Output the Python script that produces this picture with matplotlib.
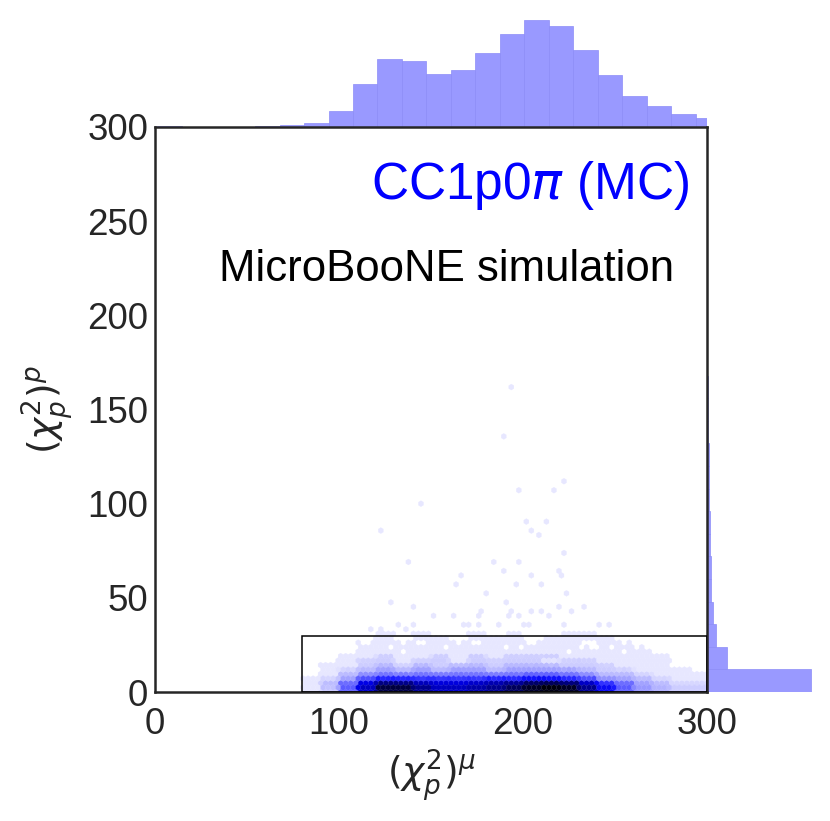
import colorsys
import numpy as np
import matplotlib
matplotlib.use("Agg")
import matplotlib.pyplot as plt
from matplotlib.colors import LinearSegmentedColormap, Normalize
from matplotlib.patches import Rectangle

plt.rcParams['font.family'] = ['Liberation Sans', 'DejaVu Sans']
plt.rcParams['mathtext.fontset'] = 'dejavusans'

# --- marginal histograms (counts) ---
mu_edges = [1.2, 14.5, 27.8, 41.1, 54.4, 67.7, 81.0, 94.3, 107.6, 120.9, 134.2,
            147.5, 160.8, 174.1, 187.4, 200.7, 214.0, 227.3, 240.6, 253.9,
            267.2, 280.5, 293.8, 307.1]
mu_counts = [5, 0, 0, 0, 5, 17, 40, 157, 430, 677, 657, 527, 573, 737, 927,
             1070, 1007, 770, 520, 310, 210, 127, 90]

p_edges = [0, 12, 24, 36, 48, 60, 72, 84, 96, 108, 120, 132, 144, 156, 168]
p_counts = [1037, 203, 87, 57, 43, 37, 25, 25, 20, 20, 15, 13, 13, 10]

# --- 2D density table: columns of chi2_mu (10 wide), rows of chi2_p (2.5 tall) ---
col_edges = [60, 70, 80, 90, 100, 110, 120, 130, 140, 150, 160, 170, 180,
             190, 200, 210, 220, 230, 240, 250, 260, 270, 280, 290, 300]
row_edges = [0, 2.5, 5, 7.5, 10, 12.5, 15, 17.5, 20, 22.5, 25, 27.5, 30]
density = [
    [0, 0, 1, 2, 6, 12, 17, 17, 14, 12, 12, 13, 14, 16, 18, 19, 18, 14, 10, 6, 4, 3, 2, 2],
    [0, 0, 1, 3, 7, 13, 18, 18, 15, 13, 13, 14, 15, 17, 19, 20, 19, 15, 10, 7, 4, 3, 2, 2],
    [0, 0, 1, 2, 4, 8, 10, 10, 9, 9, 9, 9, 10, 10, 11, 11, 10, 8, 5, 4, 3, 2, 1, 1],
    [0, 0, 0, 1, 3, 5, 6, 6, 6, 6, 6, 6, 6, 6, 7, 7, 6, 5, 3, 3, 2, 1, 1, 1],
    [0, 0, 0, 1, 2, 3, 4, 3, 4, 3, 4, 4, 3, 4, 4, 4, 4, 3, 2, 2, 1, 1, 1, 0],
    [0, 0, 0, 1, 1, 2, 3, 2, 3, 2, 3, 3, 2, 3, 3, 3, 2, 2, 2, 1, 1, 1, 0, 0],
    [0, 0, 0, 0, 1, 2, 2, 1, 2, 2, 1, 2, 2, 2, 2, 1, 2, 2, 1, 1, 1, 0, 0, 0],
    [0, 0, 0, 0, 1, 1, 2, 1, 1, 2, 1, 2, 1, 2, 2, 2, 1, 1, 1, 1, 0, 1, 0, 0],
    [0, 0, 0, 0, 0, 1, 1, 0, 1, 1, 1, 0, 1, 1, 1, 1, 0, 1, 1, 0, 1, 0, 0, 0],
    [0, 0, 0, 0, 0, 1, 0, 1, 1, 0, 1, 1, 1, 0, 1, 1, 1, 0, 0, 1, 0, 0, 0, 0],
    [0, 0, 0, 0, 0, 0, 1, 0, 0, 1, 0, 0, 1, 1, 0, 1, 1, 0, 1, 0, 0, 0, 0, 0],
    [0, 0, 0, 0, 0, 0, 1, 0, 1, 0, 0, 1, 0, 1, 0, 0, 1, 1, 0, 0, 0, 0, 0, 0],
]

# sparse single events above the dense band
out_mu = [193, 190, 198, 217, 222, 145, 124, 201, 214, 204, 209, 222, 137, 185,
          198, 190, 220, 166, 204, 222, 164, 197, 210, 180, 225, 127, 190, 140,
          177, 193, 204, 210, 220, 227, 233, 151, 161, 177, 193, 199, 215, 132,
          140, 170, 176, 188, 203, 222, 247, 117, 122, 137, 168, 186, 200, 242]
out_p = [162, 136.5, 107, 107, 111, 99, 86, 90, 90, 86, 82, 73.6, 69.6, 69.6,
         69.6, 65, 65, 61, 61, 61, 57, 57, 57, 52.7, 52.7, 48.5, 48.5, 44,
         44, 44, 44, 44, 44, 44, 44, 40, 40, 40, 40, 40, 40, 36,
         36, 36, 36, 36, 36, 36, 36, 32.4, 32.4, 32.4, 35.6, 35.6, 35.6, 36]

cut_mu = (80, 300)
cut_p = (0, 30)

# expand the table onto a fine sampling grid so hexbin can bin it
px, py, pc = [], [], []
for i in range(len(row_edges) - 1):
    for j in range(len(col_edges) - 1):
        v = density[i][j]
        if v <= 0:
            continue
        xs = np.arange(col_edges[j] + 0.5, col_edges[j + 1], 1.0)
        ys = np.arange(row_edges[i] + 0.25, row_edges[i + 1], 0.5)
        gx, gy = np.meshgrid(xs, ys)
        px.extend(gx.ravel()); py.extend(gy.ravel()); pc.extend([v] * gx.size)
px.extend(out_mu); py.extend(out_p); pc.extend([1] * len(out_mu))

# seaborn-like hex colormap: white -> blue -> black
h, l, s = colorsys.rgb_to_hls(0, 0, 1)
cols = [colorsys.hls_to_rgb(h, ll, s) for ll in np.linspace(1, 0, 12)]
cmap = LinearSegmentedColormap.from_list('blue_hex', cols)

W, H = 830, 821
fig = plt.figure(figsize=(W / 100, H / 100), dpi=100)
jl, jr, jb, jt = 155 / W, 707 / W, 1 - 692 / H, 1 - 127 / H
ax = fig.add_axes([jl, jb, jr - jl, jt - jb])
ax_top = fig.add_axes([jl, jt, jr - jl, 113 / H], sharex=ax)
ax_right = fig.add_axes([jr, jb, 110 / W, jt - jb], sharey=ax)

ax.hexbin(px, py, C=pc, reduce_C_function=np.mean, gridsize=110,
          extent=(0, 300, 0, 300), cmap=cmap, norm=Normalize(0, 20),
          linewidths=0.2, edgecolors='face')

ax.add_patch(Rectangle((cut_mu[0], cut_p[0]), cut_mu[1] - cut_mu[0], cut_p[1] - cut_p[0],
                       fill=False, ec='black', lw=1.1, zorder=3))

ax.set_xlim(0, 300)
ax.set_ylim(0, 300)
ax.set_xticks([0, 100, 200, 300])
ax.set_yticks([0, 50, 100, 150, 200, 250, 300])
ax.tick_params(axis='both', length=0, labelsize=26.5, colors='0.15')
ax.tick_params(axis='x', pad=11)
ax.tick_params(axis='y', pad=5)
for sp in ax.spines.values():
    sp.set_linewidth(1.8)
    sp.set_color('0.15')
ax.set_xlabel(r'$(\chi^2_p)^\mu$', fontsize=27, color='0.15', labelpad=4)
ax.set_ylabel(r'$(\chi^2_p)^p$', fontsize=27, color='0.15', labelpad=8)

ax.text(290, 261.6, r'CC1p0$\pi$ (MC)', color='blue', fontsize=37,
        ha='right', va='baseline')
ax.text(35, 218, 'MicroBooNE simulation', color='black', fontsize=31.5,
        ha='left', va='baseline')

hist_face = (0.6, 0.6, 1.0)
hist_edge = (0.55, 0.55, 0.97)
ax_top.bar(mu_edges[:-1], mu_counts, width=np.diff(mu_edges), align='edge',
           color=hist_face, edgecolor=hist_edge, linewidth=0.5)
ax_top.set_ylim(0, 1130)
ax_right.barh(p_edges[:-1], p_counts, height=np.diff(p_edges), align='edge',
              color=hist_face, edgecolor=hist_edge, linewidth=0.5)
ax_right.set_xlim(0, 1100)
for a in (ax_top, ax_right):
    a.axis('off')
ax.set_zorder(2)
ax.patch.set_alpha(0)

fig.savefig('out.png', dpi=100)
